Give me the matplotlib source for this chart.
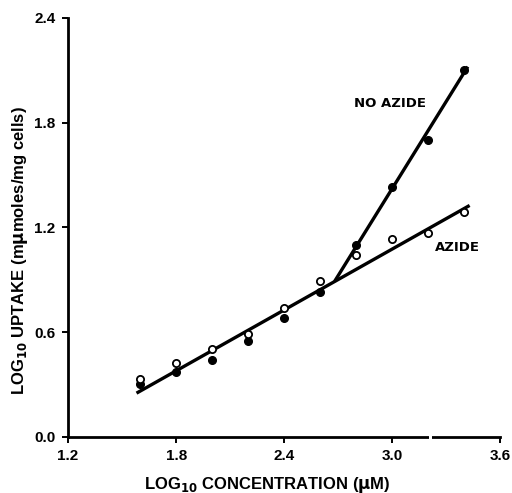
import matplotlib

matplotlib.use("Agg")
import matplotlib.pyplot as plt

# --- data --------------------------------------------------------------------
conc = [1.6, 1.8, 2.0, 2.2, 2.4, 2.6, 2.8, 3.0, 3.2, 3.4]
azide = [0.33, 0.42, 0.50, 0.59, 0.74, 0.89, 1.04, 1.13, 1.17, 1.29]
no_azide = [0.30, 0.37, 0.44, 0.55, 0.68, 0.83, 1.10, 1.43, 1.70, 2.10]

# fitted lines as drawn on the original
azide_fit_x = [1.58, 3.43]
azide_fit_y = [0.25, 1.325]
no_azide_fit_x = [2.68, 3.42]
no_azide_fit_y = [0.89, 2.12]

xticks = [1.2, 1.8, 2.4, 3.0, 3.6]
yticks = [0.0, 0.6, 1.2, 1.8, 2.4]

plt.rcParams["font.family"] = ["Liberation Sans", "DejaVu Sans"]
plt.rcParams["font.weight"] = "bold"
plt.rcParams["mathtext.default"] = "bf"

fig = plt.figure(figsize=(5.12, 4.93), dpi=100)
ax = fig.add_axes([0.133, 0.114, 0.844, 0.850])

ax.plot(azide_fit_x, azide_fit_y, color="black", linewidth=2.4, solid_capstyle="butt")
ax.plot(no_azide_fit_x, no_azide_fit_y, color="black", linewidth=2.4, solid_capstyle="butt")
ax.plot(conc, no_azide, "o", color="black", markersize=5.5, zorder=3)
ax.plot(conc, azide, "o", markerfacecolor="white", markeredgecolor="black",
        markeredgewidth=1.3, markersize=5.2, zorder=4)

ax.text(2.99, 1.91, "NO AZIDE", ha="center", va="center", fontsize=9.5,
        fontweight="bold", family="DejaVu Sans")
ax.text(3.36, 1.085, "AZIDE", ha="center", va="center", fontsize=9.5,
        fontweight="bold", family="DejaVu Sans")

ax.set_xlim(1.2, 3.6)
ax.set_ylim(0.0, 2.4)
ax.set_xticks(xticks)
ax.set_yticks(yticks)
ax.set_xticklabels([f"{v:.1f}" for v in xticks], fontweight="bold")
ax.set_yticklabels([f"{v:.1f}" for v in yticks], fontweight="bold")
ax.tick_params(direction="out", length=4, width=1.4, labelsize=11, pad=5)

for side in ("top", "right"):
    ax.spines[side].set_visible(False)
for side in ("left", "bottom"):
    ax.spines[side].set_linewidth(2.0)

# small break in the x axis, as in the original
ax.plot([3.205, 3.222], [0, 0], color="white", linewidth=3, clip_on=False, zorder=5,
        solid_capstyle="butt")

ax.set_xlabel(r"LOG$_{10}$ CONCENTRATION ($\mu$M)", fontsize=12, fontweight="bold")
ax.set_ylabel(r"LOG$_{10}$ UPTAKE (m$\mu$moles/mg cells)", fontsize=12, fontweight="bold")
ax.xaxis.set_label_coords(0.46, -0.09)
ax.yaxis.set_label_coords(-0.088, 0.445)

fig.savefig("out.png", dpi=100)
